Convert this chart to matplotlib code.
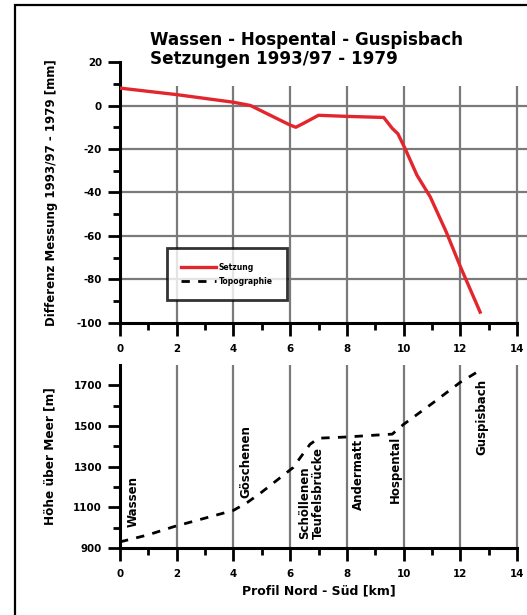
import numpy as np
import matplotlib
matplotlib.use("Agg")
import matplotlib.pyplot as plt
from matplotlib.patches import Rectangle

plt.rcParams['font.family'] = ['DejaVu Sans']
plt.rcParams['font.weight'] = 'bold'
plt.rcParams['axes.unicode_minus'] = False

# Setzung (Differenz Messung 1993/97 - 1979) [mm]
setz_km = [0.0, 2.0, 4.0, 4.6, 6.0, 6.2, 6.5, 7.0, 8.0, 9.3, 9.6, 9.8, 10.06, 10.47, 10.94, 11.5, 12.0, 12.7]
setz_mm = [8.0, 5.0, 1.5, 0.0, -9.0, -10.0, -8.0, -4.5, -5.0, -5.5, -10.5, -13.0, -20.0, -32.0, -42.0, -58.0, -74.0, -95.0]

# Topographie [m ü. M.]
topo_km = [0.0, 1.0, 1.9, 4.0, 4.5, 5.0, 6.1, 6.7, 7.0, 8.0, 9.0, 9.6, 10.0, 11.0, 12.0, 12.65]
topo_m = [930, 965, 1005, 1085, 1125, 1175, 1295, 1410, 1440, 1446, 1455, 1460, 1508, 1610, 1715, 1770]

# Ortschaften
station_names = ['Wassen', 'Göschenen', 'Schöllenen\nTeufelsbrücke', 'Andermatt', 'Hospental', 'Guspisbach']
station_km = [0.47, 4.45, 6.76, 8.42, 9.7, 12.77]
station_m = [1005, 1145, 945, 1085, 1120, 1355]

x_major = [0, 2, 4, 6, 8, 10, 12, 14]
x_minor = [1, 3, 5, 7, 9, 11, 13]
top_major = [20, 0, -20, -40, -60, -80, -100]
top_minor = [10, -10, -30, -50, -70, -90]
top_hgrid = [0, -20, -40, -60, -80]
bot_major = [900, 1100, 1300, 1500, 1700]
bot_minor = [1000, 1200, 1400, 1600]

W, H = 527, 615
fig = plt.figure(figsize=(W / 100, H / 100), dpi=100)
fig.patch.set_facecolor('white')

# Rahmen
fig.patches.append(Rectangle((15 / W, -0.1), 1.2, 1 - 5 / H + 0.1, transform=fig.transFigure,
                             fill=False, edgecolor='black', linewidth=1.6))

L, R = 120 / W, 517 / W
ax1 = fig.add_axes([L, 1 - 323 / H, R - L, (323 - 62) / H])
ax2 = fig.add_axes([L, 1 - 548 / H, R - L, (548 - 365) / H])


def style_axis(ax):
    for s in ['top', 'right']:
        ax.spines[s].set_visible(False)
    for s in ['left', 'bottom']:
        ax.spines[s].set_linewidth(2.2)
    ax.set_xlim(0, 14)
    ax.set_xticks(x_major)
    ax.set_xticks(x_minor, minor=True)
    ax.tick_params(which='major', direction='out', length=9, width=2, labelsize=7.4, pad=6)
    ax.tick_params(which='minor', direction='out', length=5, width=2)
    ax.tick_params(axis='y', which='major', pad=4)
    for lab in ax.get_xticklabels() + ax.get_yticklabels():
        lab.set_fontweight('bold')


# oben: Setzungen
ax1.set_ylim(-100, 20)
ax1.set_yticks(top_major)
ax1.set_yticks(top_minor, minor=True)
style_axis(ax1)
ax1.hlines(top_hgrid, 0, 15, colors='#7a7a7a', linewidth=1.6, clip_on=False, zorder=1)
ax1.vlines(x_major[1:], -100, 9, colors='#7a7a7a', linewidth=1.6, clip_on=False, zorder=1)
ax1.plot(setz_km, setz_mm, color='#e3262d', linewidth=2.4, zorder=3, label='Setzung')
ax1.plot([], [], color='black', linestyle=(0, (3, 3)), linewidth=2, label='Topographie')
ax1.set_ylabel('Differenz Messung 1993/97 - 1979 [mm]', fontsize=8.5, fontweight='bold', labelpad=13)
leg = ax1.legend(loc='lower left', bbox_to_anchor=(0.118, 0.088), fontsize=5.5, frameon=True,
                 fancybox=False, edgecolor='black', borderpad=1.9, handlelength=4.6,
                 handletextpad=0.3, labelspacing=0.6, borderaxespad=0)
leg.get_frame().set_linewidth(2)

fig.text(150 / W, 1 - 31 / H, 'Wassen - Hospental - Guspisbach\nSetzungen 1993/97 - 1979',
         fontsize=12.1, fontweight='bold', va='top', ha='left', linespacing=1.05)

# unten: Topographie
ax2.set_ylim(900, 1800)
ax2.set_yticks(bot_major)
ax2.set_yticks(bot_minor, minor=True)
style_axis(ax2)
ax2.vlines(x_major[1:], 900, 1800, colors='#7a7a7a', linewidth=1.6, clip_on=False, zorder=1)
ax2.plot(topo_km, topo_m, color='black', linestyle=(0, (3, 3)), linewidth=2, zorder=3)
for name, xk, ym in zip(station_names, station_km, station_m):
    ax2.text(xk, ym, name, rotation=90, ha='center', va='bottom', fontsize=8.5,
             fontweight='bold', multialignment='left', linespacing=1.05, zorder=4)
ax2.set_ylabel('Höhe über Meer [m]', fontsize=8.7, fontweight='bold', labelpad=12)
ax2.set_xlabel('Profil Nord - Süd [km]', fontsize=9, fontweight='bold', labelpad=4)

fig.savefig('out.png', dpi=100)
